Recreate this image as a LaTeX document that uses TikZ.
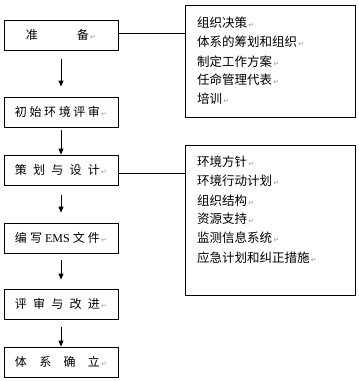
\documentclass[tikz,border=0pt]{standalone}
\usepackage{fontspec}
\setmainfont{Noto Sans CJK SC}
\newfontfamily\symf{DejaVu Sans}
\newfontfamily\latf{Liberation Serif}
\usetikzlibrary{arrows.meta}
\newcommand{\pmark}{{\symf\fontsize{7}{7}\selectfont\color{black!40}\,↵}}
\tikzset{
  lbox/.style={draw, line width=0.8pt, minimum width=114pt, minimum height=30pt, inner sep=0pt, font=\fontsize{12}{12}\selectfont},
  rbox/.style={draw, line width=0.8pt, minimum width=170pt, inner sep=0pt},
  rline/.style={anchor=west, inner sep=0pt, font=\fontsize{12.5}{12.5}\selectfont},
  flow/.style={line width=0.8pt, -{Triangle[length=6pt,width=5pt]}},
  link/.style={line width=0.8pt}
}
\begin{document}
\begin{tikzpicture}[x=1pt,y=-1pt]
\useasboundingbox (0,0) rectangle (359,381);
% left boxes
\node[lbox] (b1) at (61,35) {\makebox[63pt][s]{准\hfill 备}\pmark};
\node[lbox] (b2) at (61,112) {\makebox[85pt][s]{初\hfill 始\hfill 环\hfill 境\hfill 评\hfill 审}\pmark};
\node[lbox] (b3) at (61,170) {\makebox[85pt][s]{策\hfill 划\hfill 与\hfill 设\hfill 计}\pmark};
\node[lbox] (b4) at (61,238) {\makebox[85pt][s]{编\hfill 写\hfill {\latf EMS}\hfill 文\hfill 件}\pmark};
\node[lbox] (b5) at (61,304) {\makebox[85pt][s]{评\hfill 审\hfill 与\hfill 改\hfill 进}\pmark};
\node[lbox] (b6) at (61,362) {\makebox[85pt][s]{体\hfill 系\hfill 确\hfill 立}\pmark};
% right boxes
\node[rbox, minimum height=112pt] (r1) at (270,61) {};
\node[rbox, minimum height=150pt] (r2) at (270,220) {};
% right box texts
\node[rline] (r1a) at (197,23) {组织决策\pmark};
\node[rline] (r1b) at (197,42) {体系的筹划和组织\pmark};
\node[rline] (r1c) at (197,62) {制定工作方案\pmark};
\node[rline] (r1d) at (197,80) {任命管理代表\pmark};
\node[rline] (r1e) at (197,99) {培训\pmark};
\node[rline] (r2a) at (197,162) {环境方针\pmark};
\node[rline] (r2b) at (197,181) {环境行动计划\pmark};
\node[rline] (r2c) at (197,201) {组织结构\pmark};
\node[rline] (r2d) at (197,219) {资源支持\pmark};
\node[rline] (r2e) at (197,238) {监测信息系统\pmark};
\node[rline] (r2f) at (197,258) {应急计划和纠正措施\pmark};
% links
\draw[link] ([yshift=2pt]b1.east) -- ([yshift=2pt]b1.east -| r1.west);
\draw[link] ([yshift=-3pt]b3.east) -- ([yshift=-3pt]b3.east -| r2.west);
% flow arrows
\draw[flow, shorten <=9pt, shorten >=10pt] (b1.south) -- (b2.north);
\draw[flow, shorten <=3pt] (b2.south) -- (b3.north);
\draw[flow, shorten <=10pt, shorten >=10pt] (b3.south) -- (b4.north);
\draw[flow, shorten <=7pt, shorten >=9pt] (b4.south) -- (b5.north);
\draw[flow, shorten <=8pt] (b5.south) -- (b6.north);
\end{tikzpicture}
\end{document}
